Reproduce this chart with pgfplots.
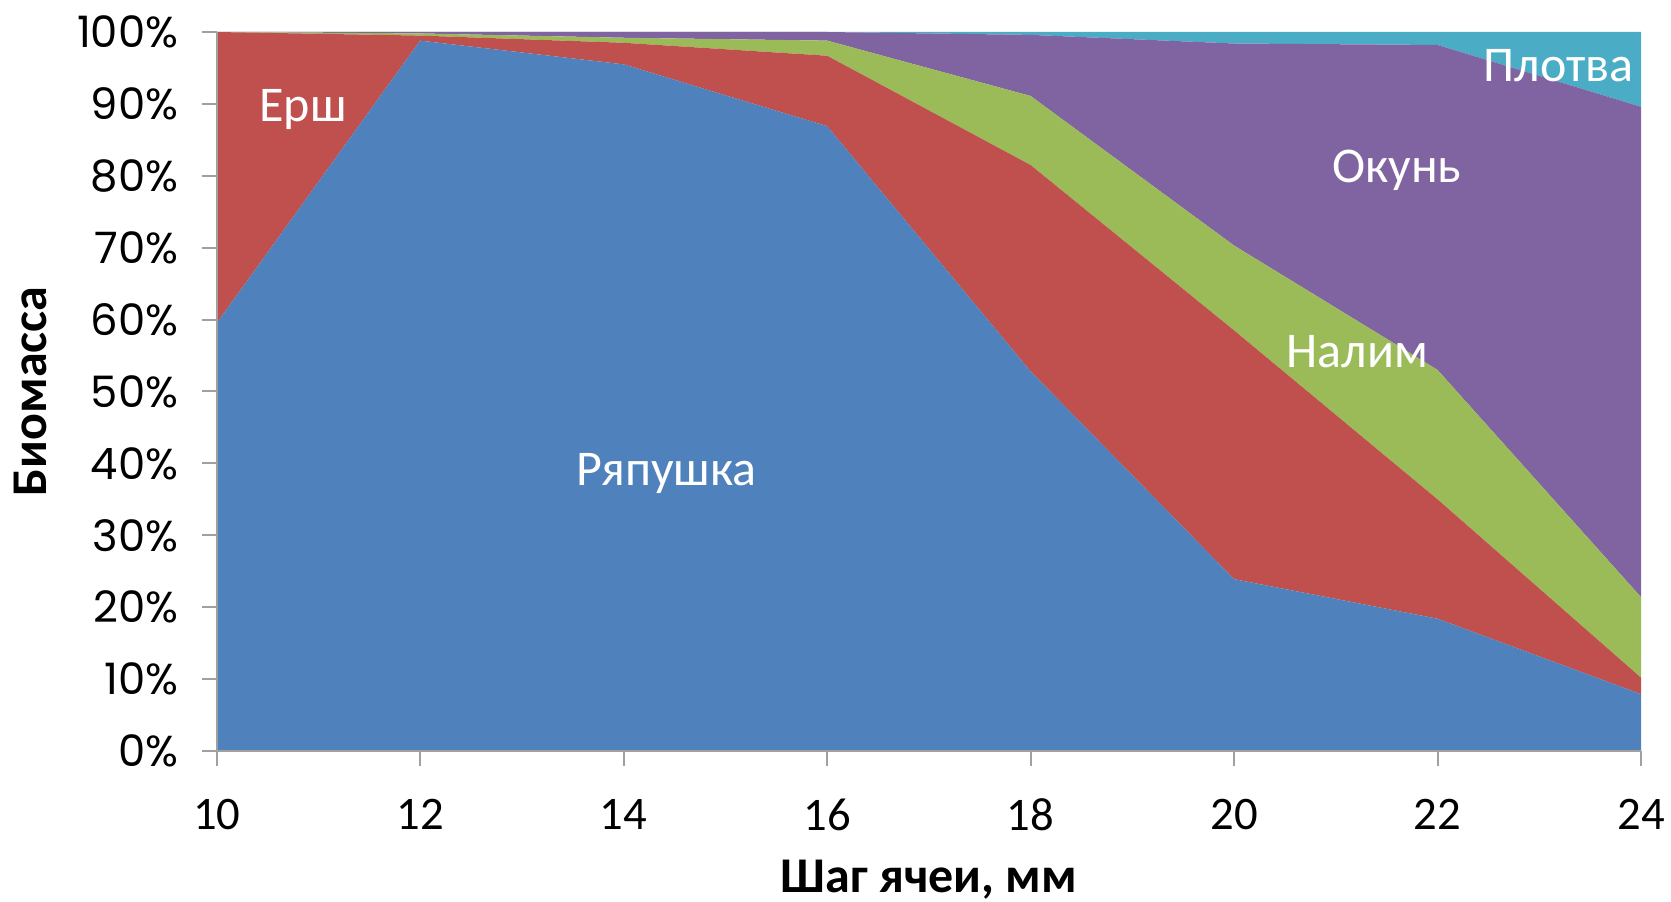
\documentclass[border=0pt]{standalone}
\usepackage{fontspec}
\setmainfont{Carlito}
\newfontfamily\yfont{Poppins}
\usepackage{pgfplots}
\pgfplotsset{compat=1.18}
\definecolor{cBlue}{HTML}{4F81BD}
\definecolor{cRed}{HTML}{C0504D}
\definecolor{cGreen}{HTML}{9BBB59}
\definecolor{cPurple}{HTML}{8064A2}
\definecolor{cAqua}{HTML}{4BACC6}
\definecolor{axgray}{HTML}{A0A0A0}
\begin{document}
\begin{tikzpicture}
\path[use as bounding box] (-65pt,-45.3pt) rectangle (501.3pt-65pt,270.6pt-45.3pt);
\begin{axis}[
  scale only axis,
  width=427.3pt, height=215.7pt,
  xmin=10, xmax=24, ymin=0, ymax=100,
  stack plots=y,
  area style,
  axis x line*=bottom, axis y line*=left,
  axis line style={axgray, line width=0.6pt},
  xtick={10,12,...,24},
  ytick={0,10,...,100},
  tick style={axgray, line width=0.6pt},
  tick align=outside,
  major tick length=4.5pt,
  /pgf/number format/assume math mode=true,
  xticklabel style={font=\fontsize{14}{16}\selectfont, anchor=center, yshift=-14.6pt},
  yticklabel={\yfont\pgfmathprintnumber{\tick}\%},
  yticklabel style={font=\fontsize{13}{15}\selectfont, anchor=east, xshift=-3.5pt},
  xlabel={Шаг ячеи, мм},
  ylabel={Биомасса},
  xlabel style={font=\bfseries\fontsize{15}{17}\selectfont, at={(axis description cs:0.5,0)}, anchor=center, yshift=-38.5pt},
  ylabel style={font=\bfseries\fontsize{15}{17}\selectfont, at={(axis description cs:-0.131,0.5)}, anchor=center},
  clip=false,
  axis on top,
]
\addplot[fill=cBlue, draw=none] coordinates {(10,59.5) (12,98.8) (14,95.5) (16,86.9) (18,52.8) (20,23.9) (22,18.4) (24,7.9)} \closedcycle;
\addplot[fill=cRed, draw=none] coordinates {(10,40.5) (12,0.7) (14,3.0) (16,9.8) (18,28.7) (20,34.6) (22,16.6) (24,2.3)} \closedcycle;
\addplot[fill=cGreen, draw=none] coordinates {(10,0) (12,0.3) (14,0.7) (16,2.1) (18,9.6) (20,11.8) (22,18.0) (24,11.2)} \closedcycle;
\addplot[fill=cPurple, draw=none] coordinates {(10,0) (12,0.2) (14,0.8) (16,1.2) (18,8.5) (20,28.1) (22,45.2) (24,68.2)} \closedcycle;
\addplot[fill=cAqua, draw=none] coordinates {(10,0) (12,0) (14,0) (16,0) (18,0.4) (20,1.6) (22,1.8) (24,10.4)} \closedcycle;
\coordinate (lErsh) at (axis cs:10.85,89.2);
\coordinate (lRyap) at (axis cs:14.42,38.6);
\coordinate (lNalim) at (axis cs:21.21,55.5);
\coordinate (lOkun) at (axis cs:21.6,80.7);
\coordinate (lPlotva) at (axis cs:23.19,95.3);
\end{axis}
\begin{scope}[every node/.style={text=white, font=\fontsize{15}{17}\selectfont}]
\node at (lErsh) {Ерш};
\node at (lRyap) {Ряпушка};
\node at (lNalim) {Налим};
\node at (lOkun) {Окунь};
\node at (lPlotva) {Плотва};
\end{scope}
\end{tikzpicture}
\end{document}
